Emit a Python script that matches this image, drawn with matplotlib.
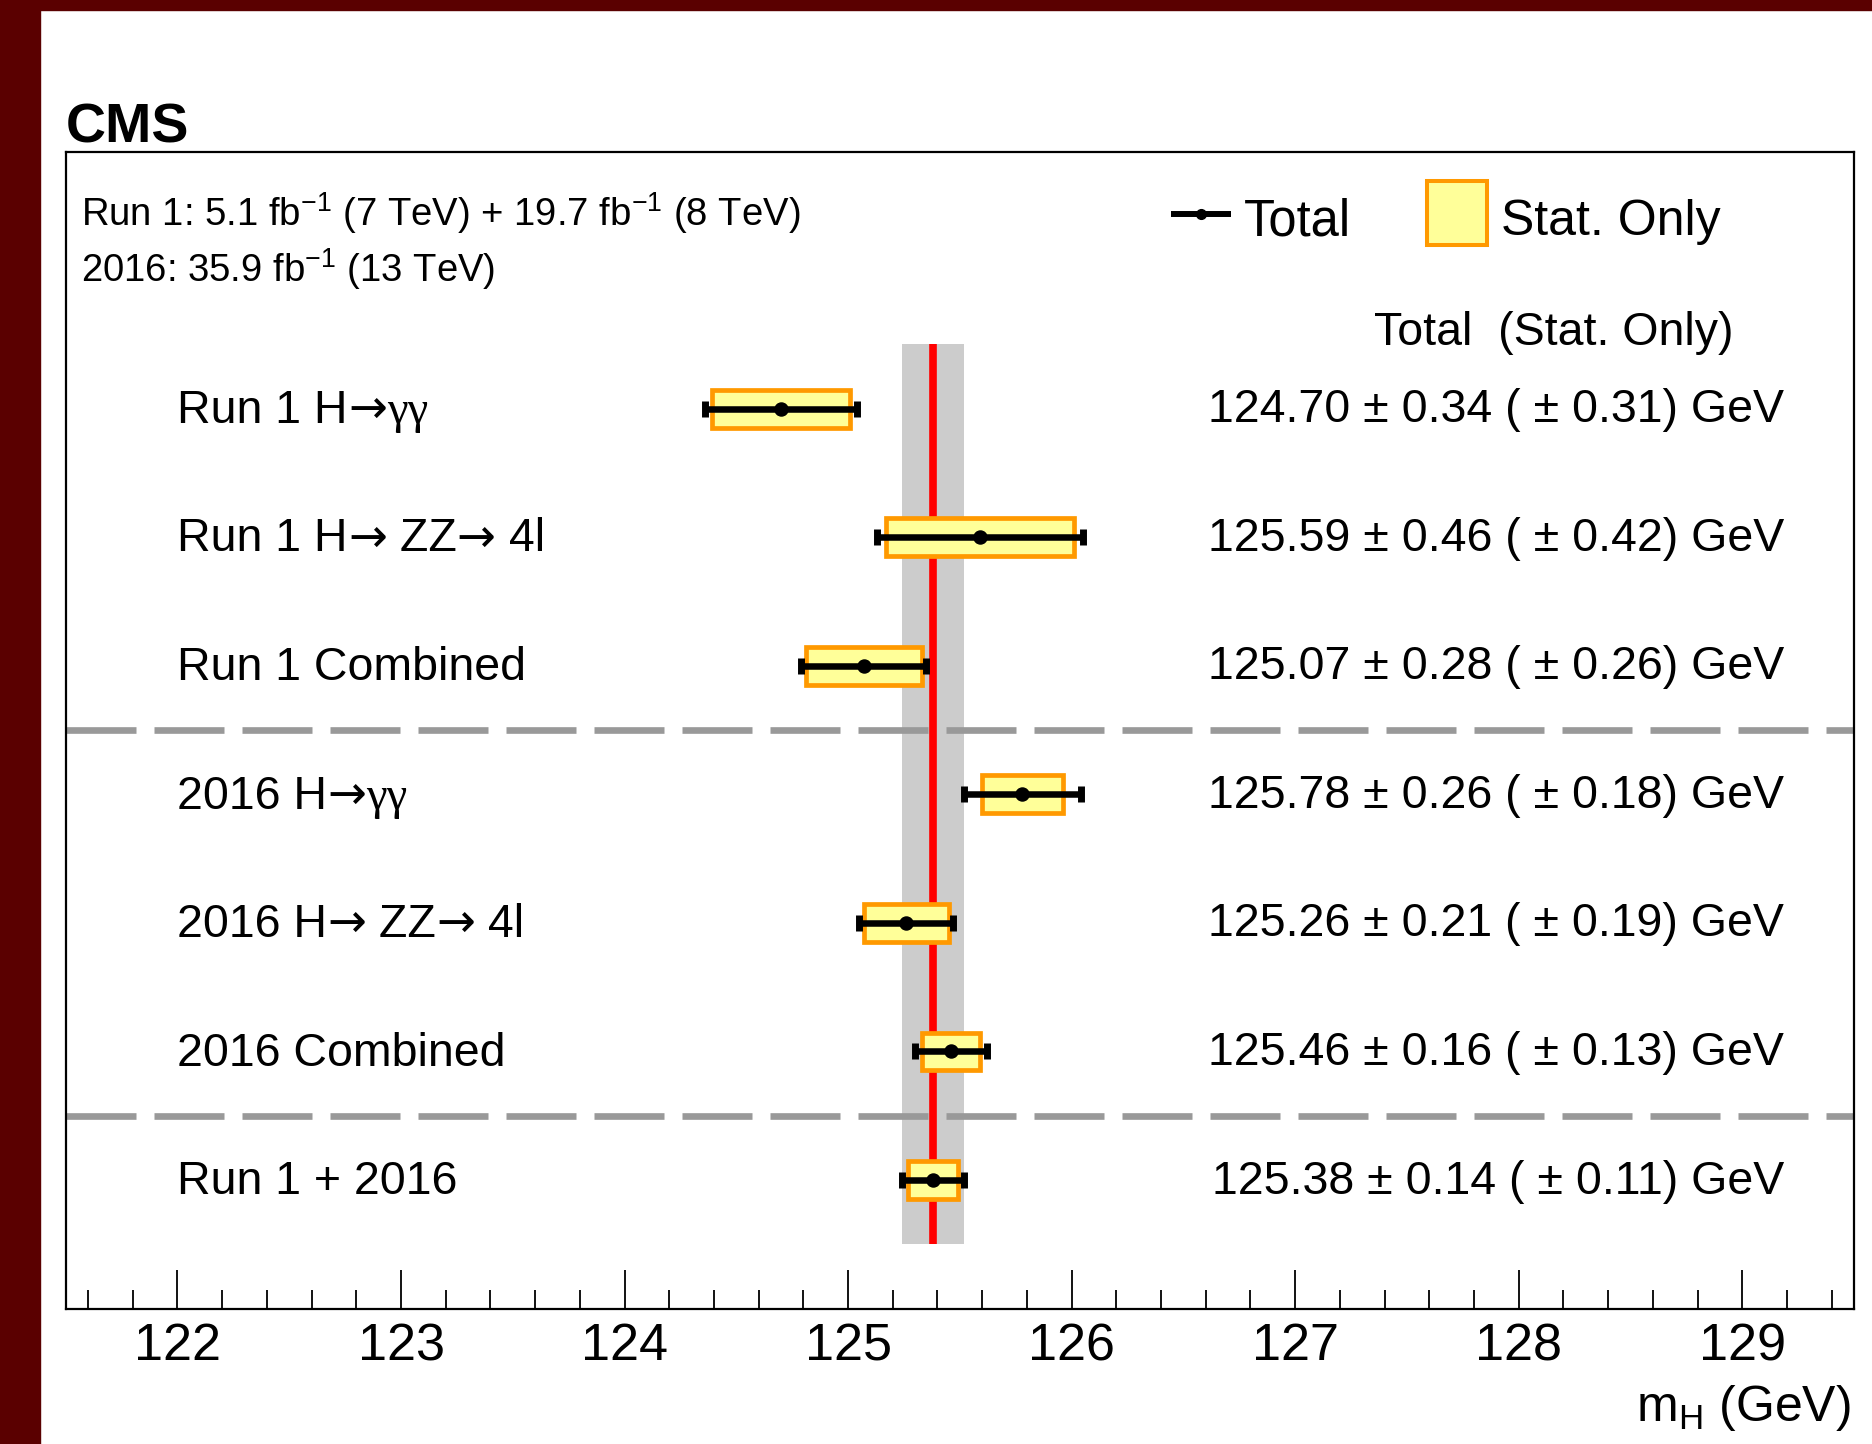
import matplotlib
matplotlib.use("Agg")
import matplotlib.pyplot as plt
from matplotlib.patches import Rectangle
from matplotlib.ticker import MultipleLocator, FixedLocator
import numpy as np

plt.rcParams['font.family'] = ['Liberation Sans', 'DejaVu Sans']
plt.rcParams['mathtext.fontset'] = 'custom'
plt.rcParams['mathtext.rm'] = 'Liberation Sans'
plt.rcParams['mathtext.default'] = 'regular'

# measurements (GeV)
names = [
    [("Run 1 H", "sans"), ("\u2192", "arrow"), ("\u03b3\u03b3", "serif")],
    [("Run 1 H", "sans"), ("\u2192", "arrow"), (" ZZ", "sans"), ("\u2192", "arrow"), (" 4l", "sans")],
    [("Run 1 Combined", "sans")],
    [("2016 H", "sans"), ("\u2192", "arrow"), ("\u03b3\u03b3", "serif")],
    [("2016 H", "sans"), ("\u2192", "arrow"), (" ZZ", "sans"), ("\u2192", "arrow"), (" 4l", "sans")],
    [("2016 Combined", "sans")],
    [("Run 1 + 2016", "sans")],
]
mass = np.array([124.70, 125.59, 125.07, 125.78, 125.26, 125.46, 125.38])
err_tot = np.array([0.34, 0.46, 0.28, 0.26, 0.21, 0.16, 0.14])
err_stat = np.array([0.31, 0.42, 0.26, 0.18, 0.19, 0.13, 0.11])
rows = np.arange(7, 0, -1)

fams = {"sans": ['Liberation Sans', 'DejaVu Sans'],
        "arrow": ['DejaVu Sans'],
        "serif": ['Liberation Serif', 'DejaVu Serif']}

W, H = 1872, 1444
fig = plt.figure(figsize=(W / 100, H / 100), dpi=100)
ax = fig.add_axes([65.7 / W, 1 - 1308.6 / H, (1854 - 65.7) / W, (1308.6 - 151.6) / H])

# dark red page border
fig.patches.append(Rectangle((0, 0), 40 / W, 1, transform=fig.transFigure,
                             color='#5a0000', zorder=10))
fig.patches.append(Rectangle((0, 1 - 10 / H), 1, 10 / H, transform=fig.transFigure,
                             color='#5a0000', zorder=10))

ax.set_xlim(121.5, 129.5)
ax.set_ylim(0, 9)

# combined band and central value
m0, e0 = mass[-1], err_tot[-1]
ax.fill_betweenx([0.5, 7.5], m0 - e0, m0 + e0, color='#cccccc', lw=0, zorder=1)
ax.axhline(4.5, color='#999999', lw=4.8, ls=(0, (10.5, 2.7)), zorder=2)
ax.axhline(1.5, color='#999999', lw=4.8, ls=(0, (10.5, 2.7)), zorder=2)
ax.plot([m0, m0], [0.5, 7.5], color='#ff0000', lw=5.5, solid_capstyle='butt', zorder=2.5)

# stat-only boxes and total error bars
ax.barh(rows, 2 * err_stat, left=mass - err_stat, height=0.294,
        color='#ffff99', edgecolor='#ff9900', linewidth=3.4, zorder=3)
ax.errorbar(mass, rows, xerr=err_tot, fmt='o', color='black', ms=9.4,
            elinewidth=4.7, capsize=5.8, capthick=5, zorder=4)

# labels and values
fs = 33.5
for y, parts, m, t, s in zip(rows, names, mass, err_tot, err_stat):
    txt, f = parts[0]
    art = ax.text(122.0, y - 0.11, txt, family=fams[f], fontsize=fs, va='baseline')
    for txt, f in parts[1:]:
        art = ax.annotate(txt, xy=(1, 0), xycoords=art, family=fams[f],
                          fontsize=fs, va='bottom', ha='left')
    ax.text(129.187, y - 0.105, f"{m:.2f} \u00b1 {t:.2f} ( \u00b1 {s:.2f}) GeV",
            fontsize=fs, ha='right', va='baseline')

ax.text(128.963, 7.496, "Total  (Stat. Only)", fontsize=fs, ha='right', va='baseline')

# legend
ax.plot([126.445, 126.714], [8.517, 8.517], color='black', lw=4.3,
        solid_capstyle='butt', zorder=4)
ax.plot([126.58], [8.517], 'o', color='black', ms=7, zorder=5)
ax.add_patch(Rectangle((127.59, 8.271), 0.27, 0.498, facecolor='#ffff99',
                       edgecolor='#ff9900', lw=2.9, zorder=4))
ax.text(126.771, 8.351, "Total", fontsize=36.5, va='baseline')
ax.text(127.921, 8.351, "Stat. Only", fontsize=36, va='baseline')

# lumi info
ax.text(121.57, 8.424, "Run 1: 5.1 fb$^{-1}$ (7 TeV) + 19.7 fb$^{-1}$ (8 TeV)",
        fontsize=27.5, va='baseline')
ax.text(121.57, 7.986, "2016: 35.9 fb$^{-1}$ (13 TeV)", fontsize=27.5, va='baseline')

ax.text(121.5, 9.07, "CMS", fontsize=40, fontweight='bold', va='baseline')

ax.text(0.9985, -0.097, "m$_{H}$ (GeV)", transform=ax.transAxes,
        fontsize=36, ha='right', va='baseline')

# axes styling
ax.xaxis.set_major_locator(FixedLocator(range(122, 130)))
ax.xaxis.set_minor_locator(MultipleLocator(0.2))
ax.set_yticks([])
ax.tick_params(axis='x', which='major', direction='in', length=28, width=1.3,
               labelsize=37.5, pad=10)
ax.tick_params(axis='x', which='minor', direction='in', length=14, width=1.3)
for sp in ax.spines.values():
    sp.set_linewidth(1.6)

fig.savefig("out.png", dpi=100)
